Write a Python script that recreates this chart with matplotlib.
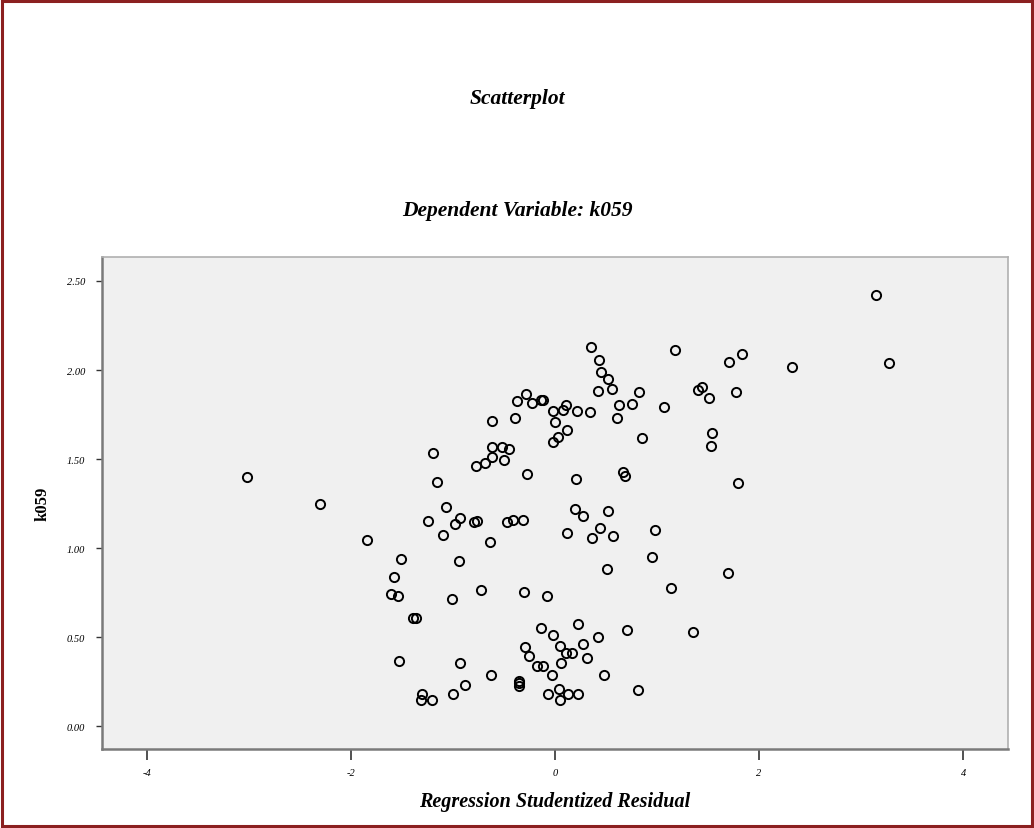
import matplotlib
matplotlib.use("Agg")
import matplotlib.pyplot as plt
from matplotlib.patches import Rectangle

# Regression studentized residuals (x) against dependent variable k059 (y)
residual = [
    -3.02, -2.30, -1.198, -1.16, -1.065, -0.617, -0.392, -0.369, -0.288, -0.222,
    -0.134, -0.112, -0.014, 0.003, -0.014, 0.026, -0.614, -0.516, -0.448, -0.614,
    -0.497, -0.68, -0.774, -0.271,
    -1.248, -0.93, -0.979, -1.094, -0.79, -0.764, -0.47, -0.41, -0.31, -0.64,
    -1.845, -1.512, -0.937, -1.577, -1.604, -1.538, -1.013, -0.725, -0.304, -0.078,
    -1.395, -1.361, -0.137, -0.017, 0.049, -0.294, -0.252, -0.176, -0.112, -0.03,
    0.062, -0.354, -0.354, -0.354, -0.069, 0.045, 0.052, -1.532, -0.928, -0.624,
    -0.885, -1.003, -1.303, -1.313, -1.208,
    0.356, 0.431, 0.453, 0.525, 0.555, 0.424, 0.826, 1.175, 1.707, 1.835,
    2.327, 3.144, 3.277, 1.407, 1.446, 1.511, 1.779, 1.544, 1.525, 0.627,
    0.76, 0.61, 1.068, 0.852, 0.078, 0.104, 0.215, 0.346, 0.114, 0.209,
    0.672, 0.689, 1.792,
    0.195, 0.274, 0.519, 0.123, 0.44, 0.359, 0.574, 0.985, 0.953, 0.515,
    1.694, 1.139, 0.228, 0.711, 1.352, 0.421, 0.277, 0.104, 0.169, 0.313,
    0.48, 0.813, 0.13, 0.231,
]
k059 = [
    1.40, 1.25, 1.535, 1.372, 1.232, 1.713, 1.728, 1.828, 1.867, 1.816,
    1.83, 1.83, 1.771, 1.706, 1.597, 1.622, 1.567, 1.569, 1.558, 1.513,
    1.496, 1.476, 1.459, 1.417,
    1.153, 1.167, 1.133, 1.075, 1.144, 1.153, 1.146, 1.159, 1.157, 1.034,
    1.047, 0.936, 0.925, 0.837, 0.74, 0.732, 0.713, 0.762, 0.755, 0.729,
    0.607, 0.607, 0.549, 0.513, 0.451, 0.444, 0.393, 0.339, 0.339, 0.288,
    0.354, 0.255, 0.24, 0.226, 0.18, 0.206, 0.146, 0.367, 0.354, 0.288,
    0.23, 0.18, 0.181, 0.146, 0.146,
    2.128, 2.055, 1.987, 1.948, 1.893, 1.88, 1.876, 2.112, 2.043, 2.088,
    2.015, 2.421, 2.038, 1.888, 1.903, 1.84, 1.876, 1.644, 1.575, 1.805,
    1.807, 1.729, 1.794, 1.618, 1.777, 1.803, 1.768, 1.762, 1.665, 1.388,
    1.425, 1.403, 1.367,
    1.219, 1.178, 1.21, 1.083, 1.112, 1.056, 1.066, 1.103, 0.951, 0.88,
    0.861, 0.774, 0.573, 0.539, 0.53, 0.502, 0.462, 0.408, 0.408, 0.38,
    0.288, 0.204, 0.178, 0.18,
]

x_ticks = [-4, -2, 0, 2, 4]
x_tick_labels = ["-4", "-2", "0", "2", "4"]
y_ticks = [0.0, 0.5, 1.0, 1.5, 2.0, 2.5]
y_tick_labels = ["0.00", "0.50", "1.00", "1.50", "2.00", "2.50"]

serif = ["Liberation Serif", "DejaVu Serif"]

fig = plt.figure(figsize=(10.34, 8.29), dpi=100)
fig.patch.set_facecolor("white")

ax = fig.add_axes([0.0984, 0.0953, 0.8765, 0.5931])
ax.set_facecolor("#f0f0f0")

ax.plot(residual, k059, linestyle="none", marker="o", markersize=6.6,
        markerfacecolor="none", markeredgecolor="black", markeredgewidth=1.4)

ax.set_xlim(-4.44, 4.44)
ax.set_ylim(-0.129, 2.633)

ax.set_xticks(x_ticks)
ax.set_xticklabels(x_tick_labels, fontstyle="italic", family=serif, fontsize=7.5)
ax.set_yticks(y_ticks)
ax.set_yticklabels(y_tick_labels, fontstyle="italic", family=serif, fontsize=7.5)
ax.tick_params(axis="x", direction="out", length=8, width=1.2, color="#333333", pad=6)
ax.tick_params(axis="y", direction="out", length=4, width=1.0, color="#333333", pad=8)

for side in ("top", "right"):
    ax.spines[side].set_color("#b0b0b0")
    ax.spines[side].set_linewidth(1.2)
for side in ("left", "bottom"):
    ax.spines[side].set_color("#7a7a7a")
    ax.spines[side].set_linewidth(1.8)

ax.set_xlabel("Regression Studentized Residual", family=serif, fontstyle="italic",
              fontweight="bold", fontsize=14.5, labelpad=10)
ax.set_ylabel("k059", family=serif, fontweight="bold", fontsize=12, labelpad=12)

fig.text(0.5, 0.881, "Scatterplot", ha="center", va="center", family=serif,
         fontstyle="italic", fontweight="bold", fontsize=15.5)
fig.text(0.5, 0.745, "Dependent Variable: k059", ha="center", va="center",
         family=serif, fontstyle="italic", fontweight="bold", fontsize=15.5)

# maroon frame around the whole chart
fig.patches.append(Rectangle((0.0015, 0.002), 0.997, 0.995, transform=fig.transFigure,
                             fill=False, edgecolor="#8b2020", linewidth=2.2))

fig.savefig("out.png", dpi=100, facecolor="white")
